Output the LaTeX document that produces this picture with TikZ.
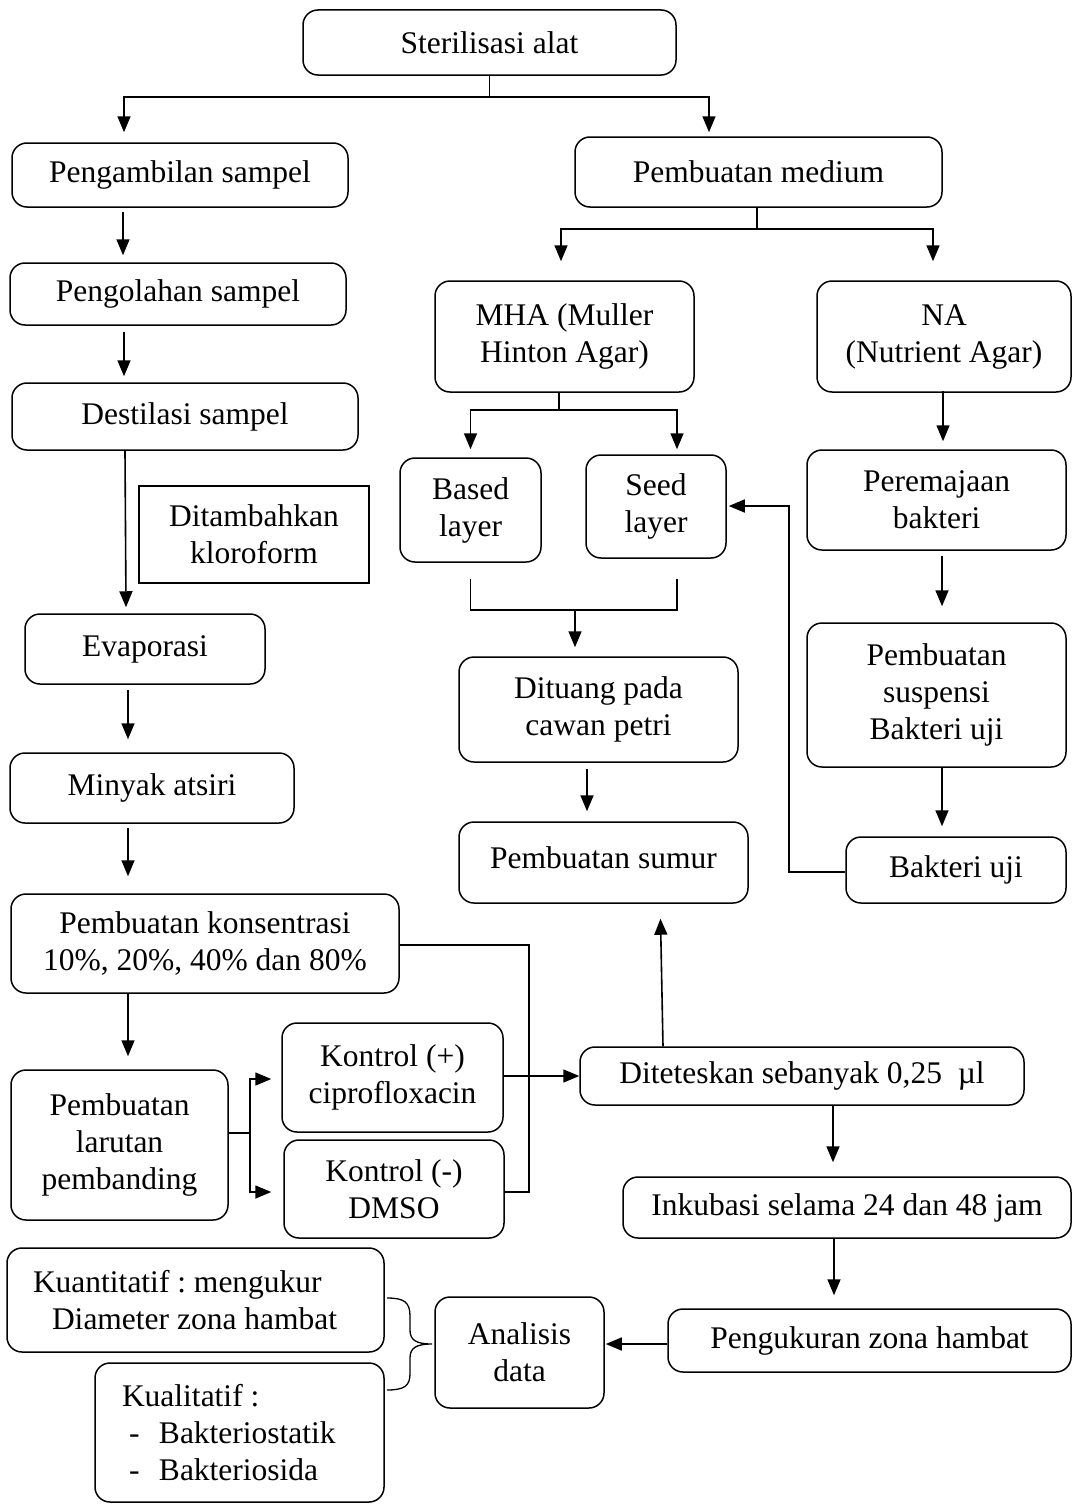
\documentclass[tikz,border=0pt]{standalone}
\usepackage{fontspec}
\setmainfont{Liberation Serif}
\usetikzlibrary{arrows.meta,calc}
\frenchspacing
\begin{document}
\begin{tikzpicture}[x=1pt,y=-1pt,
  box/.style={draw, line width=1.5pt, rounded corners=15pt, align=center, inner sep=2pt},
  plain/.style={draw, line width=1.5pt, align=center, inner sep=2pt},
  ln/.style={line width=1.6pt},
  arr/.style={line width=1.6pt, -{Triangle[width=13pt,length=16pt]}},
  font=\fontsize{31.5}{37}\selectfont\frenchspacing]
\useasboundingbox (0,0) rectangle (1073,1504);

% ---- nodes ----
\node[box, minimum width=373pt, minimum height=65pt] (steril) at (489.5,42.5) {Sterilisasi alat};
\node[box, minimum width=336pt, minimum height=64pt] (ambil) at (180,175) {Pengambilan sampel};
\node[box, minimum width=336pt, minimum height=62pt] (olah) at (178,294) {Pengolahan sampel};
\node[box, minimum width=346pt, minimum height=67pt] (destil) at (185,416.5) {Destilasi sampel};
\node[plain, minimum width=230pt, minimum height=97pt] (klor) at (254,534.5) {Ditambahkan\\kloroform};
\node[box, minimum width=240pt, minimum height=70pt] (evap) at (145,649) {Evaporasi};
\node[box, minimum width=284pt, minimum height=70pt] (minyak) at (152,788) {Minyak atsiri};
\node[box, minimum width=388pt, minimum height=99pt] (konsen) at (205,943.5) {Pembuatan konsentrasi\\10\%, 20\%, 40\% dan 80\%};
\node[box, minimum width=217pt, minimum height=150pt] (larutan) at (119.5,1145) {Pembuatan\\larutan\\pembanding};
\node[box, minimum width=221pt, minimum height=109pt] (kplus) at (392.5,1077.5) {Kontrol (+)\\ciprofloxacin};
\node[box, minimum width=220pt, minimum height=98pt] (kminus) at (394,1189) {Kontrol (-)\\DMSO};
\node[box, minimum width=444pt, minimum height=58pt] (dite) at (802,1076) {Diteteskan sebanyak 0,25\ \ µl};
\node[box, minimum width=289pt, minimum height=81pt, text height=30pt, text depth=18pt] (sumur) at (603.5,862.5) {Pembuatan sumur};
\node[box, minimum width=279pt, minimum height=105pt] (dituang) at (598.5,709.5) {Dituang pada\\cawan petri};
\node[box, minimum width=141pt, minimum height=104pt] (based) at (470.5,510) {Based\\layer};
\node[box, minimum width=140pt, minimum height=103pt] (seed) at (656,506.5) {Seed\\layer};
\node[box, minimum width=259pt, minimum height=111pt] (mha) at (564.5,336.5) {MHA (Muller\\Hinton Agar)};
\node[box, minimum width=367pt, minimum height=70pt] (medium) at (758.5,172) {Pembuatan medium};
\node[box, minimum width=254pt, minimum height=111pt] (na) at (944,336.5) {NA\\(Nutrient Agar)};
\node[box, minimum width=259pt, minimum height=100pt] (remaja) at (936.5,500) {Peremajaan\\bakteri};
\node[box, minimum width=259pt, minimum height=144pt] (suspensi) at (936.5,695) {Pembuatan\\suspensi\\Bakteri uji};
\node[box, minimum width=220pt, minimum height=66pt] (bakuji) at (956,870) {Bakteri uji};
\node[box, minimum width=448pt, minimum height=61pt] (inkub) at (847,1207.5) {Inkubasi selama 24 dan 48 jam};
\node[box, minimum width=403pt, minimum height=63pt] (ukur) at (869.5,1340.5) {Pengukuran zona hambat};
\node[box, minimum width=169pt, minimum height=111pt] (analisis) at (519.5,1352.5) {Analisis\\data};
\node[box, text width=325pt, inner xsep=26pt, align=flush left, minimum height=104pt] (kuant) at (195.5,1300)
  {Kuantitatif : mengukur\\\hspace*{19pt}Diameter zona hambat};
\node[box, text width=235pt, inner xsep=27pt, align=flush left, minimum height=139pt] (kual) at (239.5,1432.5)
  {Kualitatif :\\\hspace*{7pt}\makebox[30pt][l]{-}Bakteriostatik\\\hspace*{7pt}\makebox[30pt][l]{-}Bakteriosida};

% ---- connectors ----
\coordinate (j1) at (489.5,97);
\draw[ln] (steril.south) -- (j1);
\draw[arr] (j1) -| ($(ambil.north)+(-56,-10)$);
\draw[arr] (j1) -| ($(medium.north)+(-49.5,-4)$);

\draw[arr] ($(ambil.south)+(-57,4)$) -- ($(olah.north)+(-55,-7)$);
\draw[arr] ($(olah.south)+(-54,6)$) -- ($(destil.north)+(-61,-6)$);
\draw[arr] ($(destil.south)+(-60,0)$) -- ($(evap.north)+(-19,-6)$);
\draw[arr] ($(evap.south)+(-17,5)$) -- ($(minyak.north)+(-24,-13)$);
\draw[arr] ($(minyak.south)+(-24,4)$) -- ($(konsen.north)+(-77,-17)$);
\draw[arr] ($(konsen.south)+(-77,0)$) -- ($(larutan.north)+(8.5,-13)$);

\coordinate (j2) at (250,1133);
\draw[ln] ($(larutan.east)+(0,-12)$) -- (j2);
\draw[arr] (j2) |- ($(kplus.west)+(-10,1.5)$);
\draw[arr] (j2) |- ($(kminus.west)+(-12,3)$);

\coordinate (j3) at (529,1192);
\draw[ln] ($(konsen.east)+(0,1.5)$) -| (j3) -- (kminus.east |- j3);
\draw[arr] (kplus.east |- dite.west) -- (dite.west);

\draw[arr] ($(dite.north)+(-139,0)$) -- ($(sumur.south)+(57,15)$);
\draw[arr] ($(dituang.south)+(-11.5,6)$) -- ($(sumur.north)+(-16.5,-10)$);

\coordinate (j4) at (575,609);
\draw[ln] ($(based.south)+(0,16)$) |- ($(seed.south)+(21,51)$) -- ($(seed.south)+(21,20)$);
\draw[arr] (j4) -- ($(dituang.north)+(-23.5,-9)$);

\coordinate (j5) at (559,410);
\draw[ln] ($(mha.south)+(-5.5,0)$) -- (j5);
\draw[arr] (j5) -| ($(based.north)+(0,-8)$);
\draw[arr] (j5) -| ($(seed.north)+(21,-5)$);

\coordinate (j6) at (757,229);
\draw[ln] ($(medium.south)+(-1.5,0)$) -- (j6);
\draw[arr] (j6) -| ($(mha.north)+(-3.5,-19)$);
\draw[arr] (j6) -| ($(na.north)+(-11,-19)$);

\draw[arr] ($(na.south)+(-1,-2)$) -- ($(remaja.north)+(6.5,-8)$);
\draw[arr] ($(remaja.south)+(5.5,5)$) -- ($(suspensi.north)+(5.5,-16)$);
\draw[arr] ($(suspensi.south)+(5.5,0)$) -- ($(bakuji.north)+(-14,-10)$);

\coordinate (j7) at (789,506);
\draw[arr] ($(bakuji.west)+(0,2)$) -| (j7) -- ($(seed.east)+(2,-0.5)$);

\draw[arr] ($(dite.south)+(31,0)$) -- ($(inkub.north)+(-14,-14)$);
\draw[arr] ($(inkub.south)+(-13,0)$) -- ($(ukur.north)+(-35.5,-13)$);
\draw[arr] ($(ukur.west)+(0,3.5)$) -- ($(analisis.east)+(1,-8.5)$);

% brace
\draw[line width=1.3pt] (387,1298) .. controls (404,1298) and (410,1302) .. (410,1316) -- (410,1330)
  .. controls (410,1340) and (416,1344) .. (432,1344)
  .. controls (416,1344) and (410,1348) .. (410,1358) -- (410,1374)
  .. controls (410,1386) and (404,1390) .. (387,1390);
\end{tikzpicture}
\end{document}
